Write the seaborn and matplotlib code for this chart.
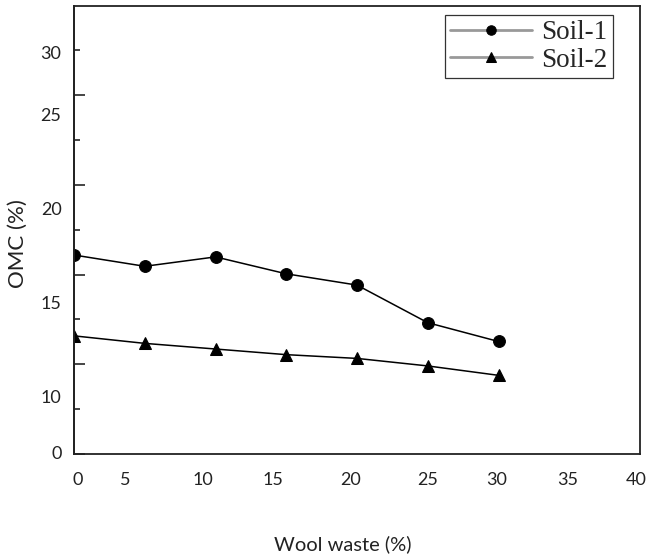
import numpy as np
import pandas as pd
import seaborn as sns
import matplotlib.pyplot as plt
from matplotlib.ticker import MultipleLocator
from matplotlib.transforms import ScaledTranslation

# values
wool_waste = [0, 5, 10, 15, 20, 25, 30]
omc_soil1 = [17.5, 16.9, 17.4, 16.5, 15.9, 13.9, 12.9]
omc_soil2 = [13.2, 12.8, 12.5, 12.2, 12.0, 11.6, 11.1]
series_names = ["Soil-1", "Soil-2"]

x_ticks = [0, 5, 10, 15, 20, 25, 30, 35, 40]
y_tick_labels = ["0", "10", "15", "20", "25", "30"]

df = pd.DataFrame({
    "Wool waste": wool_waste * 2,
    "OMC": omc_soil1 + omc_soil2,
    "soil": [series_names[0]] * 7 + [series_names[1]] * 7,
})

sns.set_style("white")
plt.rcParams["font.family"] = ["Lato", "DejaVu Sans"]

fig = plt.figure(figsize=(6.47, 5.57), dpi=100)
ax = fig.add_axes([0.1144, 0.1849, 0.8748, 0.8043])

sns.lineplot(
    data=df, x="Wool waste", y="OMC", hue="soil", style="soil",
    palette=["black", "black"], markers={"Soil-1": "o", "Soil-2": "^"},
    dashes=False, markersize=8.5, linewidth=1.1, markeredgecolor="black",
    ax=ax,
)

# scanned figure: y scale is 18.8 px per unit, bottom of axis sits at ~6.9
y_lo, y_hi = 6.915, 30.745
ax.set_xlim(0, 40)
ax.set_ylim(y_lo, y_hi)

for s in ax.spines.values():
    s.set_visible(True)
    s.set_color("#222222")
    s.set_linewidth(1.3)

ax.set_xticks(x_ticks)
ax.xaxis.set_minor_locator(MultipleLocator(2.5))
ax.tick_params(axis="x", which="major", direction="in", length=8, width=1.2,
               pad=13, labelsize=13, colors="#222222")
ax.tick_params(axis="x", which="minor", direction="in", length=4, width=1.2)
ax.set_xticklabels([str(t) for t in x_ticks])
x_label_shift = [4, -20, -13, -13, -6, 0, -2, -2, -4]
for lbl, dx in zip(ax.get_xticklabels(), x_label_shift):
    lbl.set_transform(lbl.get_transform() + ScaledTranslation(dx / 100, 0, fig.dpi_scale_trans))

# y labels sit where the picture puts them, tick marks come from a second axis
ax.set_yticks([7.0, 10, 15, 20, 25, 28.25], y_tick_labels)
ax.tick_params(axis="y", which="major", length=0, pad=9, labelsize=13, colors="#222222")

k = 18.8 / 17.95
sec = ax.secondary_yaxis("left", functions=(lambda v: (v - y_lo) * k, lambda u: u / k + y_lo))
sec.yaxis.set_major_locator(MultipleLocator(5))
sec.yaxis.set_minor_locator(MultipleLocator(2.5))
sec.tick_params(axis="y", which="major", direction="in", length=8, width=1.2, labelleft=False)
sec.tick_params(axis="y", which="minor", direction="in", length=4, width=1.2, labelleft=False)
sec.spines["left"].set_color("#222222")
sec.spines["left"].set_linewidth(1.3)

ax.set_xlabel("Wool waste (%)", fontsize=14.5, color="#222222")
ax.set_ylabel("OMC (%)", fontsize=16, color="#222222")
ax.xaxis.set_label_coords(0.475, -0.182)
ax.yaxis.set_label_coords(-0.082, 0.47)

leg = ax.legend(
    loc="upper right", bbox_to_anchor=(0.952, 0.98), frameon=True, fancybox=False,
    edgecolor="#333333", framealpha=1, handlelength=3.0, handletextpad=0.35,
    labelspacing=0.08, borderpad=0.2, borderaxespad=0, markerscale=0.8,
    prop={"family": "Liberation Serif", "size": 19.5},
)
leg.get_frame().set_linewidth(0.9)
for h in leg.legend_handles:
    h.set_color("#999999")
    h.set_linewidth(2)
    h.set_markerfacecolor("black")
    h.set_markeredgecolor("black")

fig.savefig("out.png", dpi=100)
